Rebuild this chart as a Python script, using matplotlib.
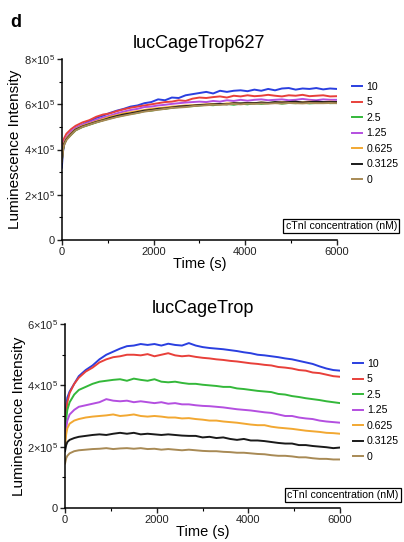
import numpy as np
import matplotlib
matplotlib.use("Agg")
import matplotlib.pyplot as plt
from matplotlib.ticker import MultipleLocator, FuncFormatter

plt.rcParams['font.family'] = ['Liberation Sans', 'DejaVu Sans']
plt.rcParams['mathtext.fontset'] = 'custom'
plt.rcParams['mathtext.rm'] = 'Liberation Sans'
plt.rcParams['mathtext.it'] = 'Liberation Sans'

# ---- data (luminescence in units of 1e5) ----
time_s = [0, 25, 50, 100, 200, 300, 450, 600, 750, 900, 1050,
          1200, 1350, 1500, 1650, 1800, 1950, 2100, 2250, 2400, 2550, 2700,
          2850, 3000, 3150, 3300, 3450, 3600, 3750, 3900, 4050, 4200, 4350,
          4500, 4650, 4800, 4950, 5100, 5250, 5400, 5550, 5700, 5850, 6000]

conc_labels = ["10", "5", "2.5", "1.25", "0.625", "0.3125", "0"]
colors = ["#2a3fe0", "#e8403a", "#34b83a", "#b44fe0", "#f2a832", "#1a1a1a", "#a88a55"]

trop627 = [
    [3.20, 3.90, 4.20, 4.50, 4.75, 4.95, 5.10, 5.25, 5.40, 5.50, 5.62,
     5.72, 5.80, 5.90, 5.95, 6.05, 6.10, 6.22, 6.18, 6.30, 6.28, 6.40,
     6.45, 6.50, 6.55, 6.48, 6.60, 6.55, 6.60, 6.62, 6.58, 6.65, 6.60,
     6.68, 6.62, 6.70, 6.72, 6.65, 6.70, 6.68, 6.72, 6.66, 6.70, 6.68],
    [3.70, 4.30, 4.50, 4.70, 4.90, 5.05, 5.20, 5.30, 5.45, 5.55, 5.60,
     5.70, 5.78, 5.85, 5.90, 5.95, 6.00, 6.05, 6.10, 6.12, 6.18, 6.15,
     6.25, 6.30, 6.28, 6.32, 6.35, 6.30, 6.38, 6.35, 6.40, 6.36, 6.38,
     6.42, 6.38, 6.35, 6.40, 6.38, 6.42, 6.36, 6.38, 6.40, 6.35, 6.36],
    [3.50, 4.00, 4.25, 4.45, 4.65, 4.85, 5.00, 5.10, 5.20, 5.30, 5.38,
     5.45, 5.52, 5.58, 5.62, 5.70, 5.72, 5.78, 5.80, 5.85, 5.88, 5.90,
     5.92, 5.95, 5.98, 5.96, 6.00, 6.02, 5.98, 6.03, 6.00, 6.05, 6.02,
     6.05, 6.08, 6.03, 6.06, 6.05, 6.08, 6.04, 6.06, 6.10, 6.05, 6.06],
    [3.60, 4.10, 4.35, 4.55, 4.80, 4.95, 5.10, 5.20, 5.32, 5.42, 5.50,
     5.60, 5.68, 5.75, 5.80, 5.88, 5.90, 5.95, 5.98, 6.02, 6.05, 6.08,
     6.10, 6.12, 6.10, 6.15, 6.12, 6.18, 6.15, 6.20, 6.16, 6.20, 6.22,
     6.18, 6.20, 6.22, 6.18, 6.20, 6.24, 6.20, 6.18, 6.22, 6.20, 6.20],
    [3.55, 4.05, 4.30, 4.50, 4.72, 4.90, 5.05, 5.15, 5.25, 5.35, 5.45,
     5.52, 5.60, 5.65, 5.70, 5.75, 5.80, 5.83, 5.86, 5.90, 5.92, 5.95,
     5.96, 5.98, 6.00, 6.02, 6.00, 6.04, 6.05, 6.03, 6.06, 6.05, 6.08,
     6.06, 6.07, 6.10, 6.08, 6.10, 6.09, 6.12, 6.10, 6.10, 6.12, 6.10],
    [3.50, 4.00, 4.25, 4.45, 4.68, 4.88, 5.02, 5.12, 5.22, 5.30, 5.40,
     5.48, 5.55, 5.60, 5.66, 5.72, 5.75, 5.80, 5.82, 5.86, 5.90, 5.92,
     5.94, 5.97, 5.98, 6.00, 6.02, 6.00, 6.05, 6.04, 6.06, 6.05, 6.08,
     6.06, 6.10, 6.08, 6.10, 6.12, 6.08, 6.10, 6.12, 6.10, 6.10, 6.10],
    [3.45, 3.95, 4.20, 4.42, 4.65, 4.85, 5.00, 5.10, 5.20, 5.28, 5.36,
     5.44, 5.50, 5.56, 5.62, 5.68, 5.72, 5.76, 5.80, 5.84, 5.86, 5.88,
     5.92, 5.94, 5.96, 5.98, 5.98, 6.00, 6.02, 6.00, 6.03, 6.02, 6.04,
     6.03, 6.05, 6.04, 6.06, 6.05, 6.04, 6.06, 6.05, 6.05, 6.06, 6.05],
]

trop = [
    [2.70, 3.30, 3.60, 3.80, 4.05, 4.30, 4.50, 4.65, 4.85, 5.00, 5.10,
     5.20, 5.28, 5.30, 5.35, 5.32, 5.35, 5.30, 5.36, 5.32, 5.30, 5.38,
     5.30, 5.25, 5.22, 5.20, 5.18, 5.15, 5.12, 5.08, 5.05, 5.00, 4.98,
     4.95, 4.92, 4.88, 4.85, 4.80, 4.75, 4.70, 4.62, 4.55, 4.50, 4.48],
    [2.50, 3.10, 3.45, 3.75, 4.05, 4.25, 4.45, 4.58, 4.75, 4.85, 4.92,
     4.95, 5.00, 5.00, 4.98, 5.02, 4.95, 5.00, 5.05, 4.98, 4.95, 4.97,
     4.93, 4.90, 4.88, 4.85, 4.83, 4.80, 4.78, 4.75, 4.72, 4.70, 4.67,
     4.65, 4.60, 4.58, 4.55, 4.50, 4.48, 4.42, 4.40, 4.35, 4.30, 4.28],
    [2.30, 2.90, 3.20, 3.45, 3.70, 3.85, 3.95, 4.05, 4.12, 4.15, 4.18,
     4.20, 4.15, 4.22, 4.18, 4.15, 4.20, 4.12, 4.10, 4.12, 4.08, 4.05,
     4.05, 4.02, 4.00, 3.98, 3.95, 3.95, 3.90, 3.88, 3.85, 3.82, 3.80,
     3.78, 3.72, 3.70, 3.65, 3.62, 3.58, 3.55, 3.52, 3.48, 3.45, 3.42],
    [2.20, 2.60, 2.85, 3.05, 3.20, 3.30, 3.35, 3.40, 3.45, 3.55, 3.50,
     3.48, 3.50, 3.45, 3.48, 3.45, 3.42, 3.45, 3.40, 3.42, 3.38, 3.38,
     3.35, 3.33, 3.32, 3.30, 3.28, 3.25, 3.22, 3.20, 3.18, 3.15, 3.12,
     3.10, 3.05, 3.00, 3.00, 2.95, 2.92, 2.90, 2.85, 2.82, 2.80, 2.78],
    [2.00, 2.40, 2.60, 2.75, 2.85, 2.90, 2.95, 2.98, 3.00, 3.02, 3.05,
     3.00, 3.02, 3.05, 3.00, 2.98, 3.00, 2.98, 2.95, 2.95, 2.92, 2.93,
     2.90, 2.88, 2.85, 2.85, 2.82, 2.80, 2.78, 2.75, 2.72, 2.70, 2.70,
     2.65, 2.62, 2.60, 2.58, 2.55, 2.52, 2.50, 2.48, 2.45, 2.44, 2.42],
    [1.85, 2.05, 2.15, 2.22, 2.28, 2.32, 2.35, 2.38, 2.40, 2.38, 2.42,
     2.45, 2.42, 2.45, 2.40, 2.42, 2.40, 2.38, 2.40, 2.38, 2.36, 2.35,
     2.35, 2.30, 2.32, 2.28, 2.30, 2.25, 2.22, 2.25, 2.20, 2.20, 2.18,
     2.15, 2.12, 2.10, 2.10, 2.05, 2.05, 2.02, 2.00, 1.98, 1.95, 1.97],
    [1.45, 1.62, 1.70, 1.78, 1.85, 1.88, 1.90, 1.92, 1.93, 1.95, 1.92,
     1.94, 1.95, 1.93, 1.95, 1.92, 1.93, 1.90, 1.92, 1.90, 1.88, 1.90,
     1.88, 1.86, 1.85, 1.85, 1.83, 1.82, 1.80, 1.80, 1.78, 1.76, 1.75,
     1.72, 1.70, 1.70, 1.68, 1.65, 1.65, 1.62, 1.60, 1.60, 1.58, 1.58],
]


def sci_fmt(v, pos):
    if v == 0:
        return "0"
    return r"$%d{\times}10^{5}$" % round(v / 1e5)


def draw_panel(ax, series, ymax, title, leg_xy):
    for vals, lab, col in zip(series, conc_labels, colors):
        ax.plot(time_s, np.array(vals) * 1e5, color=col, lw=1.4, label=lab)
    ax.set_xlim(0, 6000)
    ax.set_ylim(0, ymax)
    ax.xaxis.set_major_locator(MultipleLocator(2000))
    ax.xaxis.set_minor_locator(MultipleLocator(1000))
    ax.yaxis.set_major_locator(MultipleLocator(2e5))
    ax.yaxis.set_minor_locator(MultipleLocator(1e5))
    ax.yaxis.set_major_formatter(FuncFormatter(sci_fmt))
    for s in ["top", "right"]:
        ax.spines[s].set_visible(False)
    for s in ["left", "bottom"]:
        ax.spines[s].set_linewidth(1.1)
    ax.tick_params(which="major", length=3.5, width=1.0, labelsize=8, pad=1.5, colors="#222222")
    ax.tick_params(which="minor", length=2, width=0.8)
    ax.set_title(title, fontsize=13, pad=8)
    ax.set_ylabel("Luminescence Intensity", fontsize=11, labelpad=1)
    ax.set_xlabel("Time (s)", fontsize=10.5, labelpad=0)
    ax.legend(loc="upper left", bbox_to_anchor=leg_xy, bbox_transform=fig.transFigure,
              frameon=False, fontsize=7.6, handlelength=1.0, handletextpad=0.35,
              labelspacing=0.52, borderpad=0, borderaxespad=0)


fig = plt.figure(figsize=(4.04, 5.42), dpi=100)

ax1 = fig.add_axes([0.153, 0.557, 0.681, 0.334])
draw_panel(ax1, trop627, 8e5, "lucCageTrop627", (0.871, 0.849))

ax2 = fig.add_axes([0.161, 0.063, 0.681, 0.339])
draw_panel(ax2, trop, 6e5, "lucCageTrop", (0.873, 0.338))

box = dict(boxstyle="square,pad=0.22", fc="white", ec="black", lw=0.9)
fig.text(0.845, 0.583, "cTnI concentration (nM)", fontsize=7.6, ha="center", va="center", bbox=box)
fig.text(0.848, 0.087, "cTnI concentration (nM)", fontsize=7.6, ha="center", va="center", bbox=box)

fig.text(0.025, 0.975, "d", fontsize=13, fontweight="bold", ha="left", va="top")

fig.savefig("out.png", dpi=100)
